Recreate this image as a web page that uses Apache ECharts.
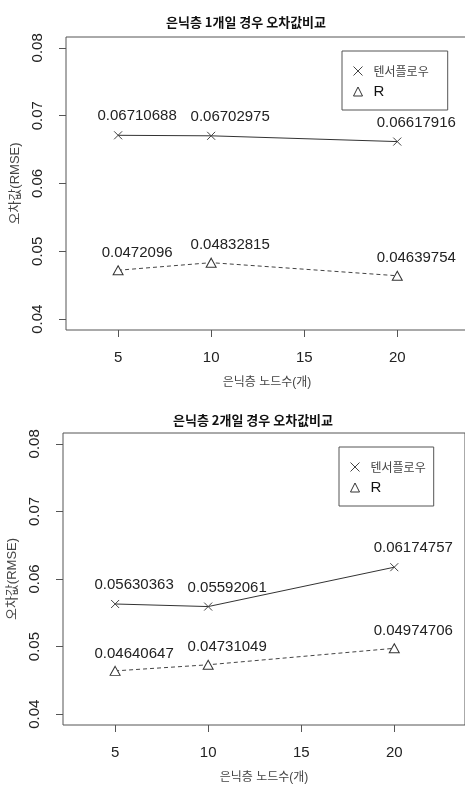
<!DOCTYPE html>
<html>
<head>
<meta charset="utf-8">
<script src="https://cdn.jsdelivr.net/npm/echarts@6/dist/echarts.min.js"></script>
<style>
  html, body { margin: 0; padding: 0; background: #fff; }
  #chart { width: 465px; height: 787px; }
</style>
</head>
<body>
<div id="chart"></div>
<script>
// nodes in the hidden layer
var nodes = [5, 10, 20];
var tf1 = [0.06710688, 0.06702975, 0.06617916];
var r1 = [0.0472096, 0.04832815, 0.04639754];
var tf2 = [0.05630363, 0.05592061, 0.06174757];
var r2 = [0.04640647, 0.04731049, 0.04974706];
var xTicks = [5, 10, 15, 20];
var yTicks = [0.04, 0.05, 0.06, 0.07, 0.08];
var titles = ['은닉층 1개일 경우 오차값비교', '은닉층 2개일 경우 오차값비교'];

var boxColor = '#555';
var textColor = '#222';
var latin = '"Liberation Sans", Arial, sans-serif';
var hangul = '"Noto Sans CJK KR", sans-serif';
var mixed = '"Liberation Sans", "Noto Sans CJK KR", sans-serif';
var crossIcon = 'path://M0,0L10,10M10,0L0,10';

function pairs(xs, ys) {
    return xs.map(function (x, i) { return [x, ys[i]]; });
}

var grids = [
    { left: 66, top: 37, width: 402, height: 293, yNameGap: 42 },
    { left: 63, top: 433, width: 402, height: 292, yNameGap: 38 }
];
// legend boxes (left, top, right padding)
var legendPos = [[342, 51, 19], [339, 447, 8]];

var option = {
    backgroundColor: '#fff',
    animation: false,
    title: [],
    legend: [],
    grid: [],
    xAxis: [],
    yAxis: [],
    series: []
};

[[tf1, r1], [tf2, r2]].forEach(function (d, k) {
    var g = grids[k];
    option.grid.push({
        left: g.left, top: g.top, width: g.width, height: g.height,
        outerBoundsMode: 'none',
        show: true, borderColor: boxColor, borderWidth: 1
    });
    option.title.push({
        text: titles[k],
        left: k === 0 ? 161 : 168,
        top: k === 0 ? 11 : 409,
        textStyle: { fontFamily: hangul, fontSize: 13, fontWeight: 'bold', color: '#111' }
    });
    option.legend.push({
        orient: 'vertical',
        left: legendPos[k][0],
        top: legendPos[k][1],
        padding: [13, legendPos[k][2], 11, 9],
        borderColor: boxColor,
        borderWidth: 1,
        itemWidth: 9,
        itemHeight: 9,
        itemGap: 6,
        textStyle: { fontFamily: hangul, fontSize: 12, color: '#444', padding: [0, 0, 0, 6] },
        data: [
            { name: '텐서플로우', icon: crossIcon,
              itemStyle: { color: 'none', borderColor: '#444', borderWidth: 1 } },
            { name: 'R', icon: 'triangle',
              itemStyle: { color: '#fff', borderColor: '#333', borderWidth: 1 },
              textStyle: { fontFamily: latin, fontSize: 15, color: '#111', padding: [0, 0, 0, 6] } }
        ]
    });
    option.xAxis.push({
        type: 'value',
        gridIndex: k,
        min: 2.2,
        max: 23.8,
        name: '은닉층 노드수(개)',
        nameLocation: 'middle',
        nameGap: 47,
        nameTextStyle: { fontFamily: mixed, fontSize: 12, color: '#444' },
        axisLine: { show: false },
        axisTick: { show: true, length: 7, lineStyle: { color: boxColor }, customValues: xTicks },
        axisLabel: { margin: 20, fontFamily: latin, fontSize: 15, color: textColor, customValues: xTicks },
        splitLine: { show: false }
    });
    option.yAxis.push({
        type: 'value',
        gridIndex: k,
        min: 0.0384,
        max: 0.0816,
        name: '오차값(RMSE)',
        nameLocation: 'middle',
        nameRotate: 90,
        nameGap: g.yNameGap,
        nameTextStyle: { fontFamily: mixed, fontSize: 13, color: '#444' },
        axisLine: { show: false },
        axisTick: { show: true, length: 7, lineStyle: { color: boxColor }, customValues: yTicks },
        axisLabel: {
            rotate: 90, margin: 21, fontFamily: latin, fontSize: 15, color: textColor,
            customValues: yTicks,
            formatter: function (v) { return v.toFixed(2); }
        },
        splitLine: { show: false }
    });
    var lbl = {
        show: true,
        position: 'top',
        distance: 5,
        offset: [19, 0],
        fontFamily: latin,
        fontSize: 15,
        color: textColor,
        formatter: function (p) { return String(p.value[1]); }
    };
    option.series.push({
        name: '텐서플로우',
        type: 'line',
        xAxisIndex: k,
        yAxisIndex: k,
        data: pairs(nodes, d[0]),
        symbol: crossIcon,
        symbolSize: 8,
        itemStyle: { color: 'none', borderColor: '#444', borderWidth: 1 },
        lineStyle: { color: '#333', width: 1 },
        label: lbl
    });
    option.series.push({
        name: 'R',
        type: 'line',
        xAxisIndex: k,
        yAxisIndex: k,
        data: pairs(nodes, d[1]),
        symbol: 'triangle',
        symbolSize: [10, 9],
        itemStyle: { color: '#fff', borderColor: '#333', borderWidth: 1 },
        lineStyle: { color: '#444', width: 1, type: [4, 3] },
        label: lbl
    });
});

var myChart = echarts.init(document.getElementById('chart'));
myChart.setOption(option);
</script>
</body>
</html>
